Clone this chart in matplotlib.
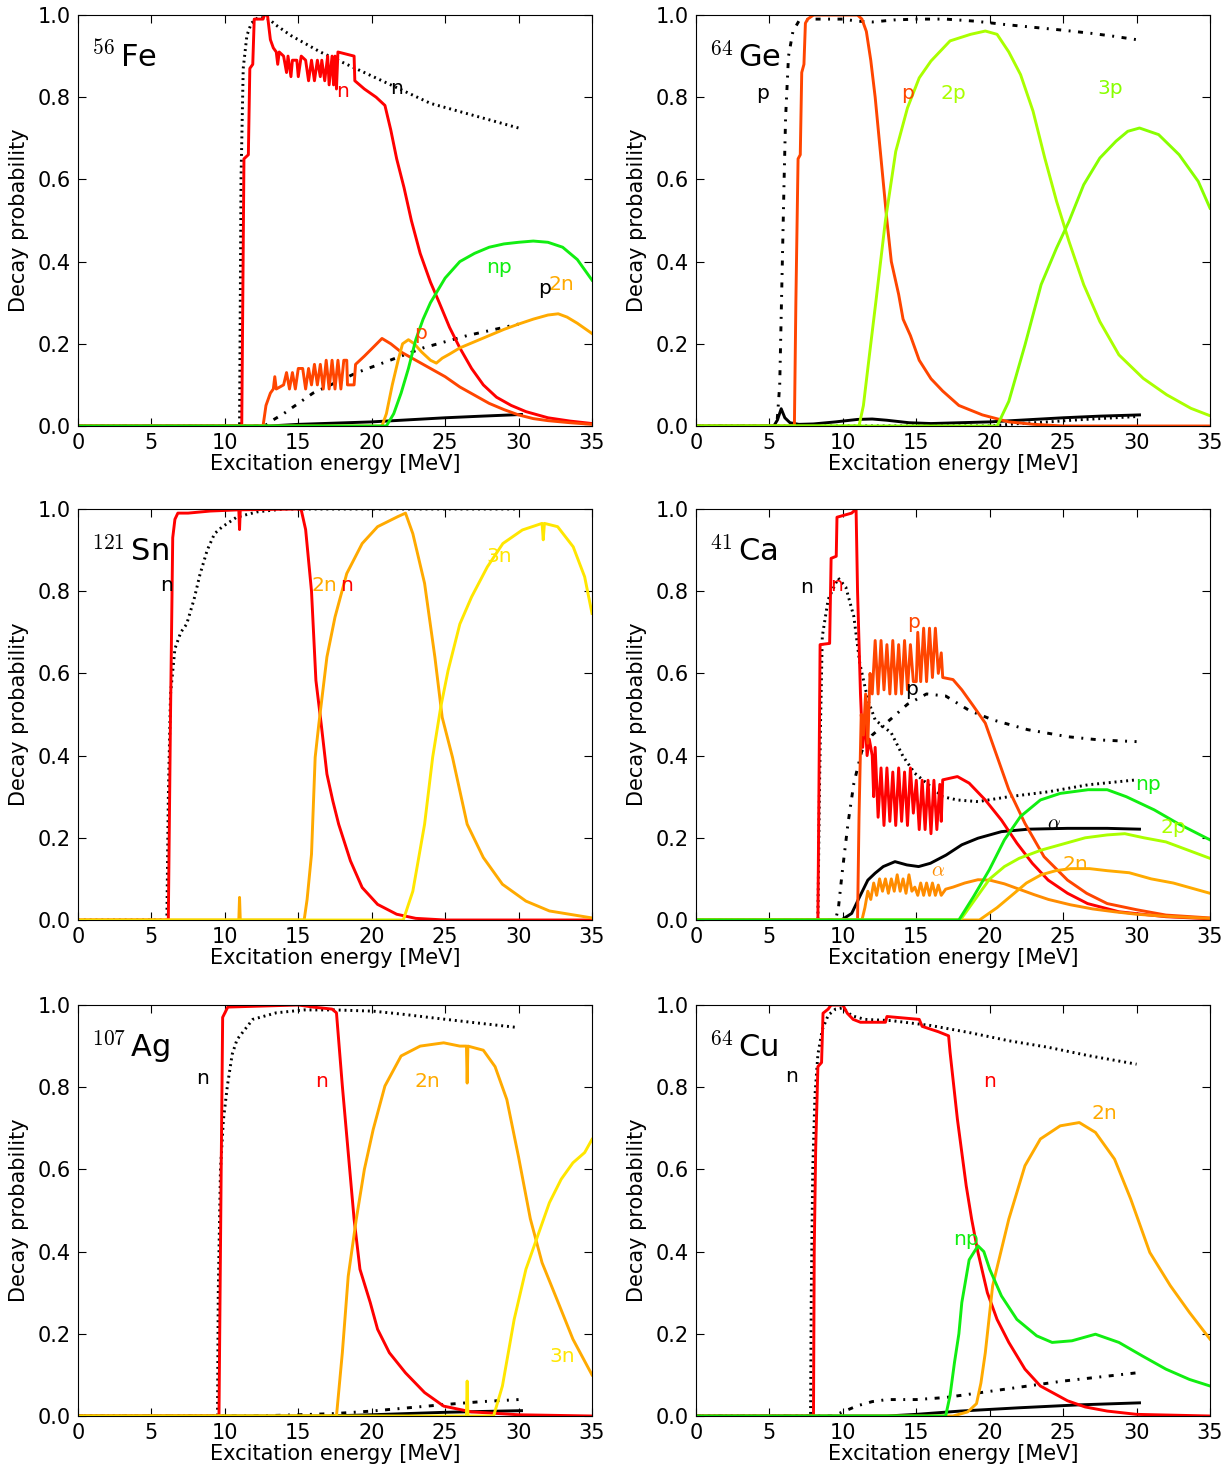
import matplotlib
matplotlib.use('Agg')
import matplotlib.pyplot as plt

plt.rcParams['mathtext.fontset'] = 'cm'
plt.rcParams['font.family'] = 'DejaVu Sans'
plt.rcParams['lines.scale_dashes'] = False

# ---------------- 56Fe ----------------
fe_n = [(0, 0), (11.15, 0), (11.3, 0.65), (11.6, 0.66), (11.7, 0.87), (11.9, 0.88), (12.0, 0.99), (12.6, 0.99),
        (12.7, 1.0), (12.9, 1.0), (13.1, 0.94), (13.3, 0.92), (13.5, 0.91), (13.6, 0.88), (13.7, 0.91), (14.0, 0.90),
        (14.2, 0.86), (14.3, 0.90), (14.5, 0.85), (14.6, 0.89), (14.9, 0.89), (15.0, 0.85), (15.2, 0.90), (15.5, 0.89),
        (15.7, 0.84), (15.9, 0.89), (16.1, 0.84), (16.3, 0.89), (16.5, 0.85), (16.6, 0.89), (16.8, 0.84), (17.0, 0.90),
        (17.1, 0.83), (17.3, 0.90), (17.4, 0.83), (17.5, 0.90), (17.6, 0.82), (17.7, 0.91), (18.8, 0.90), (18.85, 0.84),
        (19.5, 0.82), (20.3, 0.80), (20.9, 0.78), (21.3, 0.72), (21.7, 0.65), (22.2, 0.58), (22.7, 0.50), (23.3, 0.42),
        (24.0, 0.35), (24.6, 0.30), (25.3, 0.24), (26.0, 0.19), (26.8, 0.14), (27.6, 0.10), (28.5, 0.07), (29.5, 0.05),
        (30.5, 0.035), (32, 0.02), (33.5, 0.012), (35, 0.006)]
fe_p = [(0, 0), (12.6, 0), (12.8, 0.05), (13.1, 0.08), (13.3, 0.09), (13.4, 0.12), (13.5, 0.09), (14, 0.1),
        (14.2, 0.13), (14.4, 0.09), (14.6, 0.13), (14.8, 0.09), (15.0, 0.14), (15.3, 0.14), (15.5, 0.09), (15.7, 0.14),
        (15.9, 0.10), (16.1, 0.15), (16.3, 0.10), (16.5, 0.15), (16.7, 0.09), (16.9, 0.16), (17.1, 0.09), (17.3, 0.16),
        (17.5, 0.09), (17.7, 0.16), (17.9, 0.09), (18.1, 0.16), (18.3, 0.16), (18.35, 0.10), (18.8, 0.10), (18.9, 0.15),
        (19.5, 0.17), (20.2, 0.195), (20.7, 0.213), (21.3, 0.2), (22, 0.18), (23, 0.16), (24, 0.14), (25, 0.12),
        (26, 0.095), (27, 0.075), (28, 0.055), (29, 0.04), (30, 0.027), (31, 0.018), (32, 0.013), (33.5, 0.008),
        (35, 0.004)]
fe_2n = [(0, 0), (20.7, 0), (21.0, 0.03), (21.4, 0.1), (21.8, 0.16), (22.1, 0.2), (22.5, 0.21), (22.9, 0.2),
         (23.4, 0.18), (24.0, 0.16), (24.4, 0.153), (24.8, 0.165), (25.3, 0.175), (26, 0.19), (27, 0.205), (28, 0.22),
         (29, 0.235), (30, 0.248), (31, 0.26), (32, 0.27), (32.7, 0.273), (33.3, 0.265), (34, 0.25), (35, 0.225)]
fe_np = [(0, 0), (21.0, 0), (21.5, 0.03), (22.0, 0.08), (22.5, 0.14), (23.0, 0.21), (23.5, 0.26), (24.0, 0.3),
         (24.5, 0.33), (25.0, 0.36), (25.5, 0.38), (26.0, 0.40), (27, 0.42), (28, 0.435), (29, 0.443), (30, 0.447),
         (31, 0.45), (32, 0.447), (33, 0.435), (34, 0.405), (35, 0.355)]
fe_n_bl = [(0, 0), (11.0, 0), (11.1, 0.6), (11.25, 0.87), (11.5, 0.95), (11.8, 0.98), (12.3, 0.995), (13.0, 0.99),
           (13.5, 0.975), (14.5, 0.95), (15.5, 0.93), (16.5, 0.91), (18, 0.885), (19.5, 0.86), (21, 0.835),
           (22.5, 0.81), (24, 0.785), (25.5, 0.77), (27, 0.755), (28.5, 0.74), (30, 0.725)]
fe_p_bl = [(0, 0), (12.7, 0), (13.3, 0.015), (14, 0.03), (14.8, 0.05), (16, 0.08), (17.5, 0.105), (19, 0.13),
           (20.5, 0.15), (22, 0.17), (23.5, 0.19), (25, 0.205), (26.5, 0.22), (28, 0.232), (30, 0.248)]
fe_a_bl = [(0, 0), (13, 0), (15, 0.004), (17.5, 0.007), (20, 0.01), (22.5, 0.015), (25, 0.02), (27.5, 0.024),
           (30.2, 0.028)]

# ---------------- 64Ge ----------------
ge_p = [(0, 0), (6.7, 0), (6.8, 0.3), (6.95, 0.65), (7.1, 0.66), (7.2, 0.86), (7.35, 0.88), (7.45, 0.98),
        (7.6, 0.99), (8, 1.0), (11, 1.0), (11.3, 0.99), (11.6, 0.96), (11.9, 0.89), (12.2, 0.8), (12.6, 0.65),
        (13.0, 0.5), (13.3, 0.4), (13.8, 0.32), (14.1, 0.26), (14.6, 0.22), (15.2, 0.16), (16, 0.115), (16.8, 0.085),
        (17.9, 0.05), (19.5, 0.027), (21.3, 0.01), (23, 0.004), (25, 0.0), (35, 0)]
ge_2p = [(0, 0), (11.1, 0), (11.4, 0.05), (11.8, 0.17), (12.24, 0.3), (12.9, 0.5), (13.6, 0.668), (14.4, 0.774),
         (15.2, 0.847), (16.0, 0.888), (17.3, 0.937), (18.7, 0.953), (19.7, 0.961), (20.5, 0.953), (21.3, 0.91),
         (22.1, 0.855), (22.95, 0.766), (23.75, 0.652), (24.55, 0.547), (25.4, 0.449), (26.4, 0.344), (27.5, 0.254),
         (28.8, 0.173), (30.45, 0.116), (32.05, 0.076), (33.7, 0.043), (35, 0.025)]
ge_3p = [(0, 0), (20.5, 0), (21.3, 0.06), (22.4, 0.197), (23.5, 0.344), (24.55, 0.433), (25.4, 0.498),
         (26.4, 0.587), (27.5, 0.652), (28.6, 0.693), (29.4, 0.717), (30.2, 0.725), (31.5, 0.709), (32.9, 0.66),
         (34.2, 0.595), (35, 0.53)]
ge_p_bl = [(0, 0), (5.5, 0), (5.7, 0.1), (5.85, 0.35), (6.0, 0.6), (6.1, 0.75), (6.3, 0.9), (6.6, 0.96),
           (7.0, 0.985), (8, 0.99), (10, 0.99), (11, 0.985), (12, 0.983), (13.5, 0.988), (15, 0.99), (17, 0.99),
           (19, 0.985), (21, 0.977), (23, 0.97), (25, 0.963), (27, 0.955), (28.5, 0.948), (30, 0.94)]
ge_a_bl = [(0, 0), (5.3, 0), (5.55, 0.015), (5.8, 0.042), (6.05, 0.02), (6.4, 0.008), (7, 0.004), (8, 0.005),
           (9.5, 0.01), (11, 0.016), (12, 0.017), (13, 0.014), (14.5, 0.008), (16, 0.006), (18, 0.008), (20, 0.01),
           (22.5, 0.015), (25, 0.02), (27.5, 0.024), (30.2, 0.027)]
ge_n_bl = [(0, 0), (20.0, 0), (22, 0.006), (24, 0.01), (26, 0.015), (28, 0.019), (30, 0.023)]

# ---------------- 121Sn ----------------
sn_n = [(0, 0), (6.15, 0), (6.3, 0.5), (6.45, 0.93), (6.6, 0.975), (6.8, 0.99), (7.5, 0.99), (9, 0.995),
        (10.95, 0.998), (11.0, 0.95), (11.05, 0.998), (15.0, 1.0), (15.2, 0.998), (15.5, 0.95), (15.9, 0.8),
        (16.2, 0.583), (16.56, 0.477), (16.95, 0.355), (17.35, 0.29), (17.75, 0.233), (18.55, 0.144), (19.35, 0.079),
        (20.4, 0.038), (21.7, 0.014), (23, 0.004), (25, 0.0), (35, 0.0)]
sn_2n = [(0, 0), (10.95, 0), (11.0, 0.055), (11.05, 0), (15.4, 0), (15.6, 0.05), (15.9, 0.16), (16.15, 0.396),
         (16.4, 0.477), (16.95, 0.64), (17.5, 0.737), (18.3, 0.843), (19.35, 0.916), (20.4, 0.957), (21.75, 0.981),
         (22.3, 0.99), (22.8, 0.94), (23.6, 0.819), (24.3, 0.64), (24.8, 0.493), (25.5, 0.396), (26.5, 0.233),
         (27.6, 0.152), (28.9, 0.087), (30.5, 0.046), (32.1, 0.022), (35, 0.005)]
sn_3n = [(0, 0), (22.15, 0), (22.8, 0.07), (23.6, 0.233), (24.15, 0.396), (24.7, 0.518), (25.2, 0.607),
         (26.0, 0.72), (26.8, 0.786), (27.87, 0.859), (28.93, 0.916), (30.26, 0.949), (31.6, 0.965), (31.68, 0.925),
         (31.76, 0.965), (32.66, 0.957), (33.72, 0.908), (34.5, 0.835), (35, 0.746)]
sn_n_bl = [(0, 0), (6.05, 0), (6.15, 0.3), (6.3, 0.55), (6.6, 0.66), (7.0, 0.7), (7.4, 0.72), (7.9, 0.78),
           (8.3, 0.84), (8.8, 0.9), (9.3, 0.94), (9.8, 0.956), (10.8, 0.98), (12.2, 0.993), (14, 1.0), (30, 1.0)]

# ---------------- 41Ca ----------------
ca_n = [(0, 0), (8.3, 0), (8.45, 0.67), (9.1, 0.673), (9.2, 0.88), (9.55, 0.885), (9.6, 0.98), (10.6, 0.99),
        (10.9, 1.0), (11.0, 0.8), (11.2, 0.55), (11.35, 0.42), (11.5, 0.5), (11.65, 0.4), (11.8, 0.44), (12.0, 0.4),
        (12.1, 0.3), (12.2, 0.42), (12.4, 0.25), (12.6, 0.37), (12.8, 0.23), (13.0, 0.37), (13.2, 0.24), (13.4, 0.36),
        (13.6, 0.23), (13.8, 0.37), (14.0, 0.24), (14.2, 0.36), (14.4, 0.23), (14.6, 0.37), (14.8, 0.26), (15.0, 0.34),
        (15.2, 0.22), (15.4, 0.34), (15.6, 0.22), (15.8, 0.34), (16.0, 0.21), (16.2, 0.34), (16.4, 0.22), (16.6, 0.33),
        (16.7, 0.24), (16.8, 0.341), (17.8, 0.349), (18.6, 0.333), (19.7, 0.292), (20.8, 0.243), (21.85, 0.187),
        (22.9, 0.138), (23.98, 0.097), (25.3, 0.065), (26.66, 0.04), (28.8, 0.02), (32, 0.008), (35, 0.003)]
ca_p = [(0, 0), (11.0, 0), (11.1, 0.25), (11.25, 0.5), (11.4, 0.45), (11.55, 0.55), (11.7, 0.43), (11.85, 0.6),
        (12.0, 0.55), (12.2, 0.68), (12.4, 0.55), (12.6, 0.68), (12.8, 0.56), (13.0, 0.67), (13.2, 0.55), (13.4, 0.68),
        (13.6, 0.55), (13.8, 0.67), (14.0, 0.55), (14.2, 0.68), (14.4, 0.56), (14.6, 0.67), (14.8, 0.58), (15.0, 0.58),
        (15.1, 0.7), (15.3, 0.58), (15.5, 0.71), (15.7, 0.58), (15.9, 0.71), (16.1, 0.59), (16.3, 0.71), (16.5, 0.6),
        (16.7, 0.65), (16.8, 0.59), (17.5, 0.585), (18.1, 0.56), (18.9, 0.52), (19.7, 0.479), (20.5, 0.398),
        (21.3, 0.317), (22.4, 0.235), (23.7, 0.154), (25.3, 0.097), (26.6, 0.065), (28.0, 0.04), (30, 0.025),
        (32, 0.012), (35, 0.005)]
ca_a = [(0, 0), (11.3, 0), (11.5, 0.03), (11.7, 0.07), (11.9, 0.05), (12.1, 0.09), (12.3, 0.06), (12.5, 0.1),
        (12.7, 0.07), (12.9, 0.1), (13.1, 0.065), (13.3, 0.1), (13.5, 0.07), (13.7, 0.11), (13.9, 0.07), (14.1, 0.1),
        (14.3, 0.065), (14.5, 0.11), (14.7, 0.07), (14.9, 0.08), (15.1, 0.06), (15.3, 0.09), (15.5, 0.06),
        (15.7, 0.09), (15.9, 0.06), (16.1, 0.09), (16.3, 0.06), (16.5, 0.085), (16.7, 0.06), (17.0, 0.075),
        (17.5, 0.08), (18.3, 0.09), (19.2, 0.098), (20.0, 0.097), (21.0, 0.088), (22.0, 0.075), (23.0, 0.062),
        (24.0, 0.05), (25.5, 0.037), (27, 0.027), (28.5, 0.02), (30, 0.014), (32, 0.009), (35, 0.004)]
ca_np = [(0, 0), (17.9, 0), (18.9, 0.057), (19.97, 0.122), (21.0, 0.195), (22.1, 0.252), (23.45, 0.292),
         (24.8, 0.308), (26.7, 0.317), (28.0, 0.317), (29.3, 0.3), (31.2, 0.268), (32.8, 0.235), (35, 0.195)]
ca_2p = [(0, 0), (18.0, 0), (19.0, 0.05), (20.0, 0.1), (21.0, 0.13), (22.0, 0.15), (23.5, 0.17), (25, 0.185),
         (26.5, 0.2), (28, 0.207), (29.2, 0.21), (30.5, 0.2), (32, 0.19), (33.5, 0.17), (35, 0.15)]
ca_2n = [(0, 0), (19.3, 0), (20.5, 0.03), (21.5, 0.06), (22.5, 0.09), (23.5, 0.11), (24.5, 0.12), (25.5, 0.125),
         (26.8, 0.125), (28, 0.12), (29.5, 0.115), (31, 0.1), (32.5, 0.09), (34, 0.075), (35, 0.065)]
ca_n_bl = [(0, 0), (8.3, 0), (8.4, 0.3), (8.48, 0.479), (8.6, 0.69), (9.0, 0.78), (9.68, 0.832), (10.2, 0.81),
           (10.75, 0.738), (11.15, 0.625), (11.7, 0.536), (12.2, 0.487), (13.3, 0.455), (14.1, 0.398), (14.9, 0.357),
           (15.7, 0.333), (16.8, 0.3), (17.8, 0.292), (19.2, 0.288), (21.3, 0.3), (24.0, 0.312), (26.7, 0.329),
           (30, 0.341)]
ca_p_bl = [(0, 0), (9.5, 0), (9.7, 0.03), (9.95, 0.114), (10.35, 0.235), (10.75, 0.333), (11.28, 0.41), (12.0, 0.45),
           (13.3, 0.49), (14.4, 0.525), (15.7, 0.55), (17.0, 0.545), (18.6, 0.51), (20.2, 0.487), (22.6, 0.463),
           (25.3, 0.446), (27.5, 0.438), (30, 0.434)]
ca_a_bl = [(0, 0), (9.9, 0), (10.6, 0.016), (11.15, 0.057), (11.7, 0.097), (12.2, 0.114), (12.75, 0.13),
           (13.55, 0.142), (14.36, 0.134), (15.16, 0.13), (15.96, 0.138), (17.03, 0.158), (18.1, 0.183), (19.2, 0.199),
           (20.8, 0.215), (22.65, 0.221), (25.3, 0.223), (28.0, 0.223), (30.2, 0.221)]

# ---------------- 107Ag ----------------
ag_n = [(0, 0), (9.6, 0), (9.75, 0.6), (9.85, 0.97), (10.2, 0.995), (15, 1.0), (16, 0.995), (17.3, 0.99),
        (17.6, 0.981), (18.0, 0.803), (18.4, 0.641), (18.8, 0.479), (19.2, 0.357), (19.9, 0.276), (20.4, 0.211),
        (21.2, 0.154), (22.3, 0.105), (23.6, 0.057), (24.9, 0.024), (26.8, 0.01), (30, 0.003), (35, 0)]
ag_2n = [(0, 0), (17.6, 0), (18.0, 0.154), (18.4, 0.34), (18.95, 0.479), (19.5, 0.6), (20.1, 0.697), (20.9, 0.803),
         (22.0, 0.876), (23.3, 0.9), (24.9, 0.908), (26.0, 0.9), (26.45, 0.9), (26.5, 0.81), (26.55, 0.9),
         (27.6, 0.89), (28.4, 0.85), (29.2, 0.77), (30.0, 0.63), (30.8, 0.48), (31.6, 0.373), (32.7, 0.276),
         (33.7, 0.187), (35, 0.1)]
ag_3n = [(0, 0), (26.45, 0), (26.5, 0.085), (26.55, 0), (28.3, 0), (28.9, 0.073), (29.7, 0.235), (30.5, 0.357),
         (31.3, 0.438), (32.1, 0.519), (32.9, 0.576), (33.7, 0.616), (34.5, 0.641), (35, 0.673)]
ag_n_bl = [(0, 0), (9.5, 0), (9.55, 0.3), (9.7, 0.6), (9.9, 0.72), (10.17, 0.803), (10.5, 0.88), (10.83, 0.916),
           (11.9, 0.965), (13.5, 0.981), (15.4, 0.988), (17.5, 0.988), (20.1, 0.985), (22, 0.978), (24.1, 0.969),
           (27, 0.957), (30, 0.945)]
ag_p_bl = [(0, 0), (12, 0), (15, 0.003), (17.5, 0.006), (20, 0.012), (22.5, 0.02), (25, 0.028), (27.5, 0.035),
           (30, 0.04)]
ag_a_bl = [(0, 0), (17, 0), (20, 0.003), (22.5, 0.006), (25, 0.009), (27.5, 0.011), (30.2, 0.013)]

# ---------------- 64Cu ----------------
cu_n = [(0, 0), (8.0, 0), (8.05, 0.4), (8.15, 0.65), (8.3, 0.85), (8.55, 0.86), (8.65, 0.98), (9.0, 0.99),
        (9.2, 1.0), (10.0, 1.0), (10.3, 0.98), (10.7, 0.965), (11.2, 0.958), (12.9, 0.958), (13.0, 0.972),
        (15.2, 0.965), (15.4, 0.948), (16.5, 0.935), (17.2, 0.925), (17.3, 0.885), (17.8, 0.722), (18.4, 0.56),
        (18.77, 0.479), (19.2, 0.398), (19.84, 0.3), (20.5, 0.235), (21.3, 0.179), (22.4, 0.114), (23.45, 0.073),
        (25.3, 0.037), (26.5, 0.022), (28.0, 0.012), (30, 0.004), (35, 0.0)]
cu_np = [(0, 0), (17.0, 0), (17.3, 0.05), (17.6, 0.13), (17.9, 0.2), (18.1, 0.276), (18.6, 0.38), (19.2, 0.414),
         (19.6, 0.4), (20.0, 0.357), (20.8, 0.292), (21.85, 0.235), (23.2, 0.195), (24.25, 0.179), (25.6, 0.183),
         (27.2, 0.199), (28.8, 0.179), (30.4, 0.146), (32.0, 0.114), (33.6, 0.089), (35, 0.073)]
cu_2n = [(0, 0), (17.5, 0), (18.5, 0.01), (19.1, 0.03), (19.4, 0.08), (19.7, 0.154), (20.2, 0.317), (21.3, 0.479),
         (22.4, 0.609), (23.45, 0.674), (24.8, 0.706), (26.1, 0.714), (27.2, 0.69), (28.5, 0.625), (29.6, 0.528),
         (30.9, 0.398), (32.3, 0.317), (33.6, 0.252), (35, 0.187)]
cu_n_bl = [(0, 0), (7.8, 0), (7.85, 0.3), (7.95, 0.6), (8.1, 0.78), (8.3, 0.88), (8.6, 0.94), (9.0, 0.975),
           (9.5, 0.99), (10.0, 0.993), (10.6, 0.974), (11.5, 0.965), (13.3, 0.962), (16.0, 0.95), (18.6, 0.933),
           (21.3, 0.913), (24.0, 0.897), (26.7, 0.877), (30, 0.856)]
cu_p_bl = [(0, 0), (9.3, 0), (10, 0.01), (11, 0.025), (12, 0.035), (13, 0.04), (15, 0.04), (17, 0.045), (19, 0.055),
           (21, 0.065), (23, 0.075), (25, 0.085), (27.5, 0.095), (30, 0.105)]
cu_a_bl = [(0, 0), (13, 0), (15, 0.004), (18, 0.012), (22, 0.02), (26, 0.027), (30.2, 0.032)]

C_N, C_P, C_A = '#ff0000', '#ff4500', '#ff8c00'
C_2N, C_3N = '#ffaa00', '#ffe600'
C_NP, C_2P, C_3P = '#11ee11', '#aaff00', '#88ff00'

DOT = (0, (1.4, 2.8))
DASHDOT = (0, (3.6, 5.4, 1.4, 5.4))

panels = [
    (r'$^{56}\,$Fe', [(fe_n_bl, 'k', DOT), (fe_p_bl, 'k', DASHDOT), (fe_a_bl, 'k', '-'), (fe_n, C_N, '-'),
                      (fe_p, C_P, '-'), (fe_2n, C_2N, '-'), (fe_np, C_NP, '-')],
     [('n', 18.0, 0.815, C_N), ('n', 21.7, 0.82, 'k'), ('np', 28.7, 0.385, C_NP), ('2n', 32.9, 0.345, C_2N),
      ('p', 31.8, 0.335, 'k'), ('p', 23.3, 0.225, C_P)]),
    (r'$^{64}\,$Ge', [(ge_p_bl, 'k', DASHDOT), (ge_n_bl, 'k', DOT), (ge_a_bl, 'k', '-'), (ge_p, C_P, '-'),
                      (ge_2p, C_2P, '-'), (ge_3p, C_3P, '-')],
     [('p', 4.5, 0.81, 'k'), ('p', 14.4, 0.81, C_P), ('2p', 17.5, 0.81, C_2P), ('3p', 28.2, 0.82, C_3P)]),
    (r'$^{121}\,$Sn', [(sn_n_bl, 'k', DOT), (sn_n, C_N, '-'), (sn_2n, C_2N, '-'), (sn_3n, C_3N, '-')],
     [('n', 6.0, 0.815, 'k'), ('n', 18.3, 0.815, C_N), ('2n', 16.8, 0.815, C_2N), ('3n', 28.7, 0.885, C_3N)]),
    (r'$^{41}\,$Ca', [(ca_n_bl, 'k', DOT), (ca_p_bl, 'k', DASHDOT), (ca_a_bl, 'k', '-'), (ca_n, C_N, '-'),
                      (ca_p, C_P, '-'), (ca_a, C_A, '-'), (ca_2n, C_2N, '-'), (ca_2p, C_2P, '-'),
                      (ca_np, C_NP, '-')],
     [('n', 7.5, 0.81, 'k'), ('n', 9.6, 0.815, C_N), ('p', 14.8, 0.725, C_P), ('p', 14.7, 0.56, 'k'),
      (r'$\alpha$', 24.4, 0.235, 'k'), (r'$\alpha$', 16.5, 0.12, C_A), ('np', 30.8, 0.33, C_NP),
      ('2p', 32.5, 0.225, C_2P), ('2n', 25.8, 0.135, C_2N)]),
    (r'$^{107}\,$Ag', [(ag_n_bl, 'k', DOT), (ag_p_bl, 'k', DASHDOT), (ag_a_bl, 'k', '-'), (ag_n, C_N, '-'),
                       (ag_2n, C_2N, '-'), (ag_3n, C_3N, '-')],
     [('n', 8.5, 0.82, 'k'), ('n', 16.6, 0.815, C_N), ('2n', 23.8, 0.815, C_2N), ('3n', 33.0, 0.145, C_3N)]),
    (r'$^{64}\,$Cu', [(cu_n_bl, 'k', DOT), (cu_p_bl, 'k', DASHDOT), (cu_a_bl, 'k', '-'), (cu_n, C_N, '-'),
                      (cu_2n, C_2N, '-'), (cu_np, C_NP, '-')],
     [('n', 6.5, 0.825, 'k'), ('n', 20.0, 0.815, C_N), ('2n', 27.8, 0.735, C_2N), ('np', 18.4, 0.43, C_NP)]),
]

W, H = 1231, 1470
fig = plt.figure(figsize=(W / 100, H / 100), dpi=100)
lefts = [78, 696]
tops = [15, 509, 1005]
aw, ah = 514, 411

for i, (iso, curves, labels) in enumerate(panels):
    l = lefts[i % 2]
    t = tops[i // 2]
    ax = fig.add_axes([l / W, 1 - (t + ah) / H, aw / W, ah / H])
    for pts, col, ls in curves:
        xs = [p[0] for p in pts]
        ys = [p[1] for p in pts]
        ax.plot(xs, ys, color=col, ls=ls, lw=2.1)
    for txt, x, y, col in labels:
        ax.text(x, y, txt, color=col, fontsize=14.5, ha='center', va='center')
    ax.text(0.9, 0.873, iso, fontsize=22, ha='left', va='baseline')
    ax.set_xlim(0, 35)
    ax.set_ylim(0, 1)
    ax.set_xticks(range(0, 36, 5))
    ax.set_yticks([0, 0.2, 0.4, 0.6, 0.8, 1.0])
    ax.set_yticklabels(['0.0', '0.2', '0.4', '0.6', '0.8', '1.0'])
    ax.tick_params(direction='in', top=True, right=True, labelsize=15, length=6, pad=5)
    ax.set_xlabel('Excitation energy [MeV]', fontsize=15, labelpad=1)
    ax.set_ylabel('Decay probability', fontsize=15, labelpad=6)

fig.savefig('out.png', dpi=100)
